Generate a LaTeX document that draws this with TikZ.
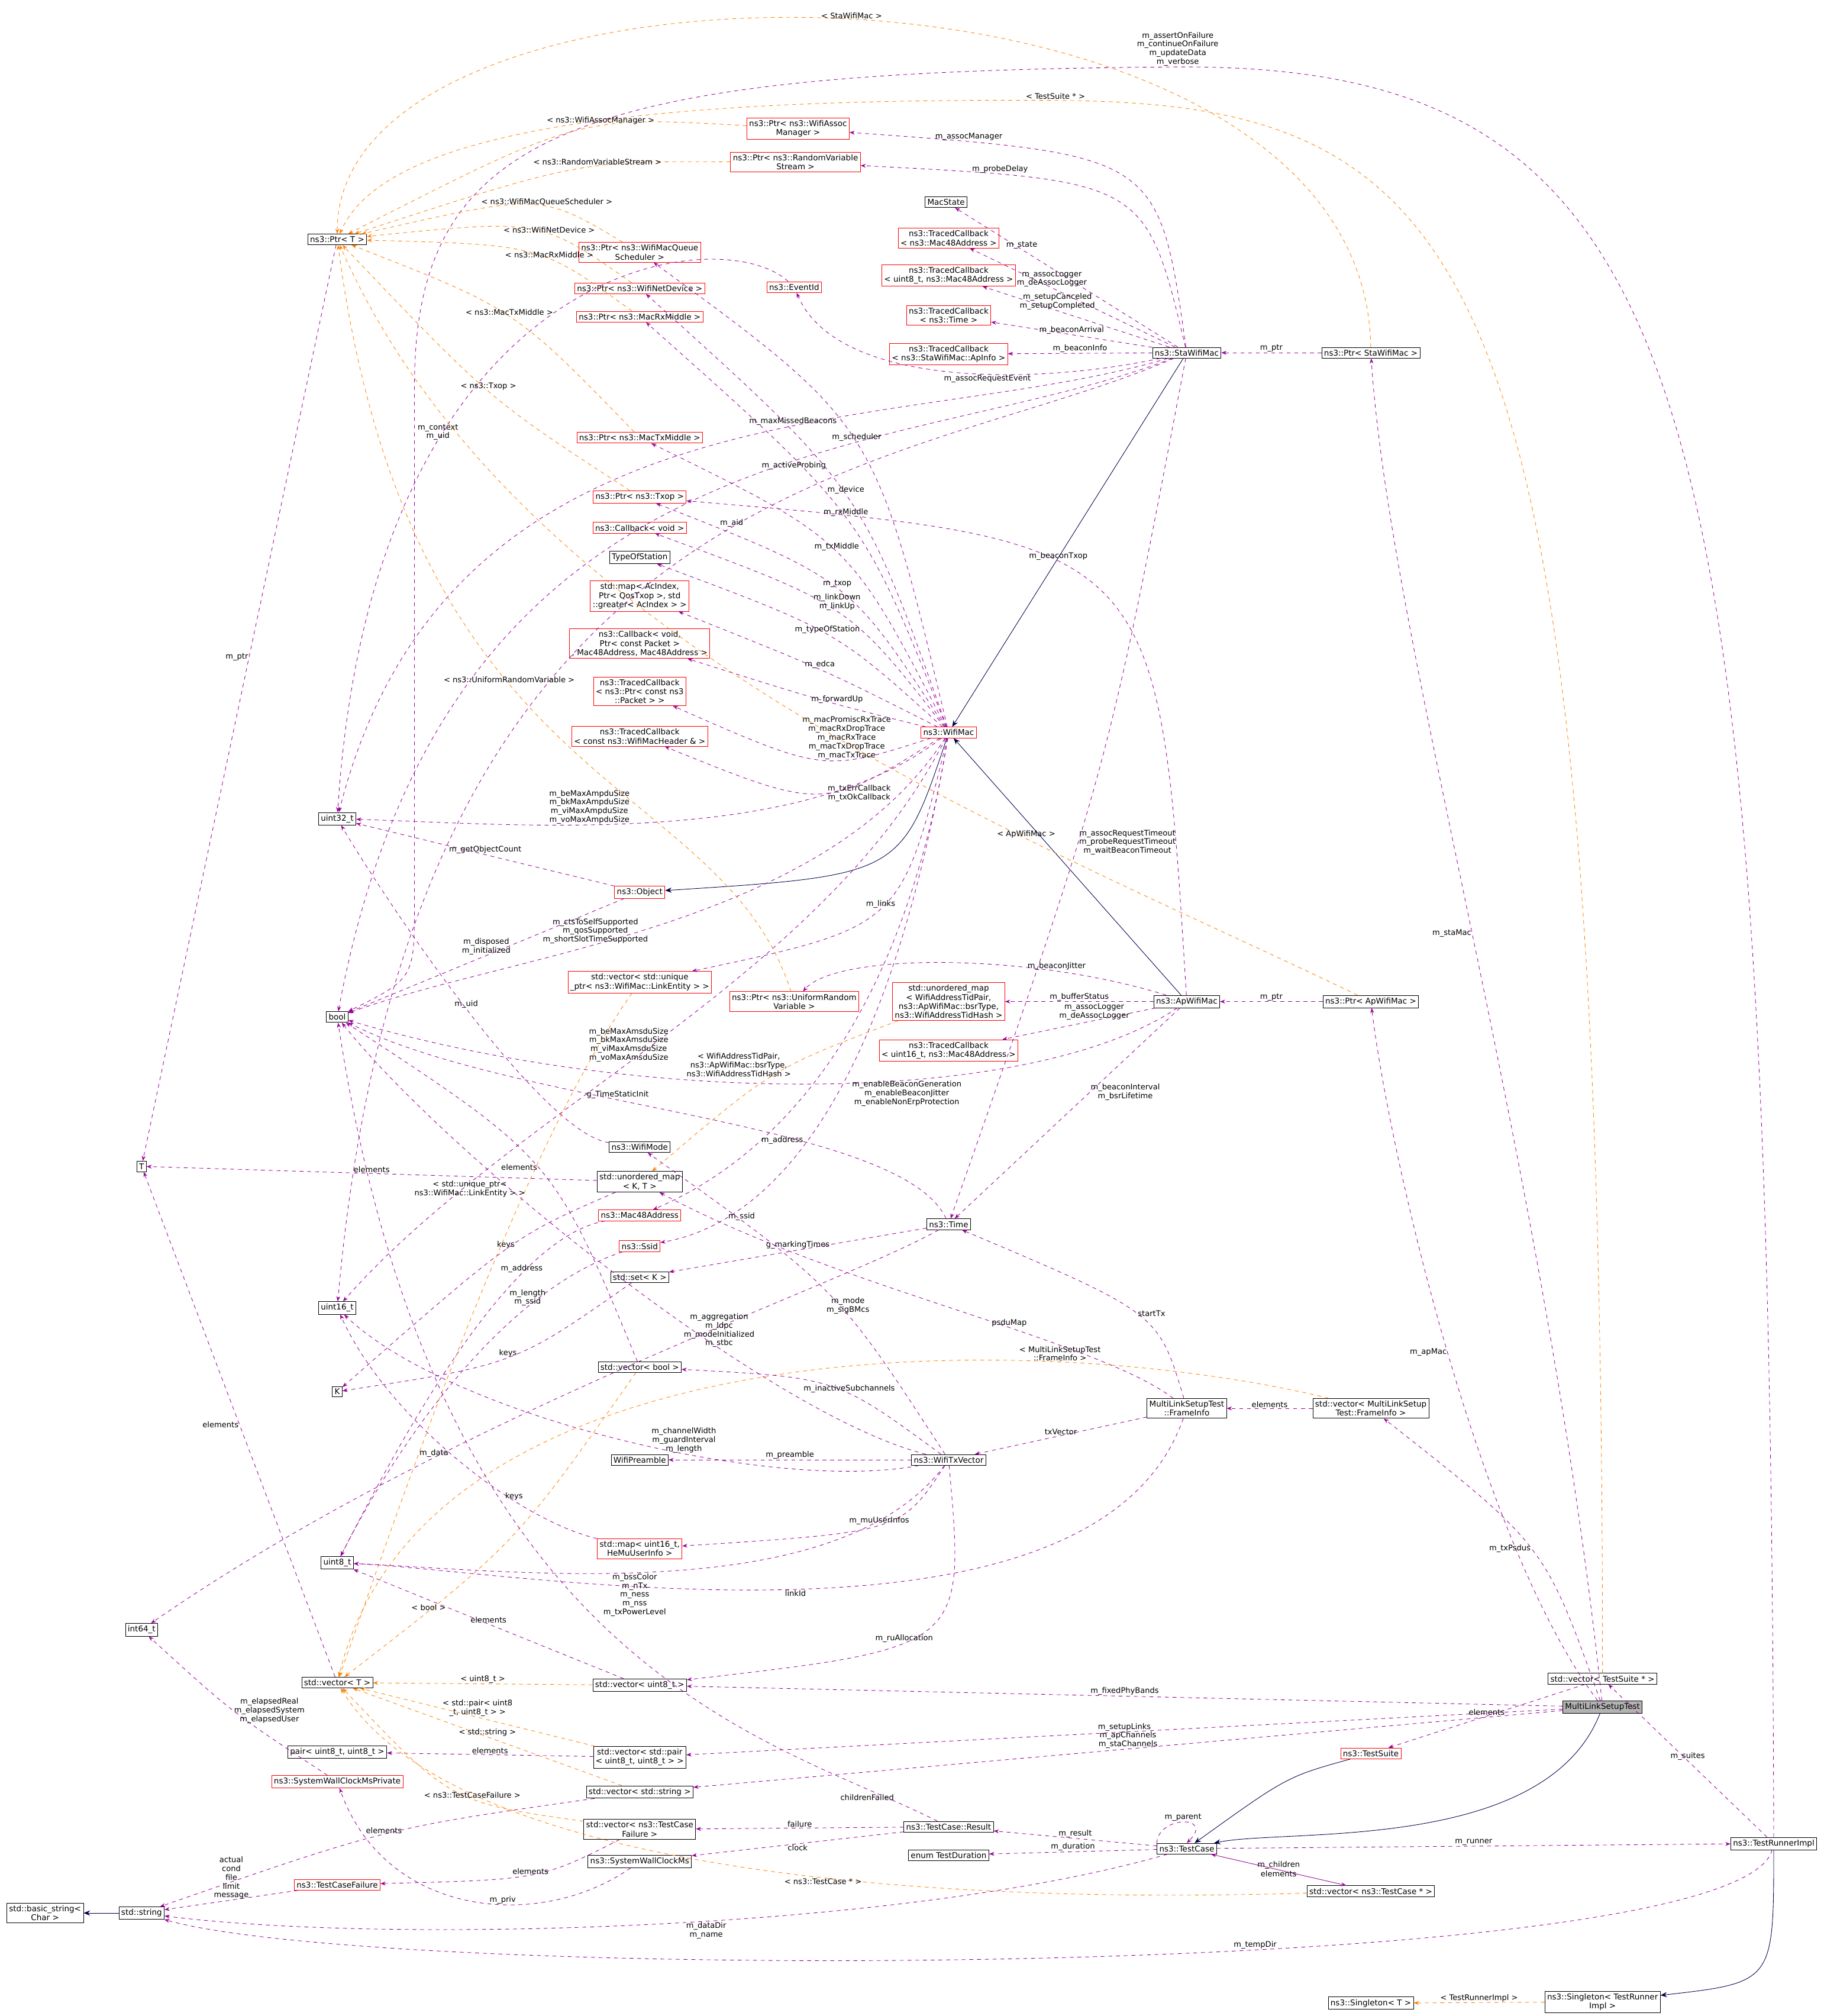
\documentclass[tikz,border=0pt]{standalone}
\usepackage{fontspec}
\setmainfont{DejaVu Sans}
\usetikzlibrary{arrows.meta}
\begin{document}
\begin{tikzpicture}[x=1pt,y=1pt,
 nb/.style={draw=black,fill=white,inner sep=1.8pt,align=center,font=\fontsize{6.2}{7}\selectfont},
 nr/.style={nb,draw=red},
 dep/.style={draw=violet!80!magenta,dashed,-{Stealth[length=4pt,width=3pt]},thin},
 tpl/.style={draw=orange,dashed,-{Stealth[length=4pt,width=3pt]},thin},
 inh/.style={draw=blue!30!black,-{Stealth[length=5pt,width=4pt]},thin},
 lab/.style={font=\fontsize{6}{6.8}\selectfont,align=center,inner sep=0.5pt}]
\useasboundingbox (0,0) rectangle (1417,-1566);
% left column
\node[nb] (ptrT) at (262,-186) {ns3::Ptr< T >};
\node[nb] (u32) at (262,-636) {uint32\_t};
\node[nb] (bool) at (262,-790) {bool};
\node[nb] (T) at (110,-906) {T};
\node[nb] (u16) at (262,-1016) {uint16\_t};
\node[nb] (K) at (262,-1081) {K};
\node[nb] (u8) at (262,-1214) {uint8\_t};
\node[nb] (i64) at (110,-1266) {int64\_t};
\node[nb] (vecT) at (262,-1307) {std::vector< T >};
\node[nb] (pair) at (262,-1361) {pair< uint8\_t, uint8\_t >};
\node[nr] (swcmp) at (262,-1384) {ns3::SystemWallClockMsPrivate};
\node[nr] (tcf) at (262,-1464) {ns3::TestCaseFailure};
\node[nb] (str) at (110,-1486) {std::string};
\node[nb] (bstr) at (35,-1486) {std::basic\_string<\\Char >};
% middle column
\node[nr] (pAssoc) at (620,-100) {ns3::Ptr< ns3::WifiAssoc\\Manager >};
\node[nr] (pRVS) at (618,-126) {ns3::Ptr< ns3::RandomVariable\\Stream >};
\node[nb] (macstate) at (735,-157) {MacState};
\node[nr] (tcMac) at (737,-185) {ns3::TracedCallback\\< ns3::Mac48Address >};
\node[nr] (tcU8) at (737,-214) {ns3::TracedCallback\\< uint8\_t, ns3::Mac48Address >};
\node[nr] (tcTime) at (737,-245) {ns3::TracedCallback\\< ns3::Time >};
\node[nr] (tcAp) at (737,-275) {ns3::TracedCallback\\< ns3::StaWifiMac::ApInfo >};
\node[nr] (evid) at (617,-223) {ns3::EventId};
\node[nr] (pSched) at (497,-196) {ns3::Ptr< ns3::WifiMacQueue\\Scheduler >};
\node[nr] (pDev) at (497,-224) {ns3::Ptr< ns3::WifiNetDevice >};
\node[nr] (pRx) at (497,-246) {ns3::Ptr< ns3::MacRxMiddle >};
\node[nr] (pTxM) at (497,-340) {ns3::Ptr< ns3::MacTxMiddle >};
\node[nr] (pTxop) at (497,-386) {ns3::Ptr< ns3::Txop >};
\node[nr] (cbv) at (497,-410) {ns3::Callback< void >};
\node[nb] (tos) at (497,-433) {TypeOfStation};
\node[nr] (mapAc) at (497,-463) {std::map< AcIndex,\\Ptr< QosTxop >, std\\::greater< AcIndex > >};
\node[nr] (cbFwd) at (497,-500) {ns3::Callback< void,\\Ptr< const Packet >\\, Mac48Address, Mac48Address >};
\node[nr] (tcPkt) at (497,-537) {ns3::TracedCallback\\< ns3::Ptr< const ns3\\::Packet > >};
\node[nr] (tcHdr) at (497,-572) {ns3::TracedCallback\\< const ns3::WifiMacHeader \& >};
\node[nr] (wmac) at (737,-569) {ns3::WifiMac};
\node[nb] (sta) at (922,-274) {ns3::StaWifiMac};
\node[nb] (psta) at (1065,-274) {ns3::Ptr< StaWifiMac >};
\node[nr] (obj) at (497,-693) {ns3::Object};
\node[nr] (vLinks) at (497,-763) {std::vector< std::unique\\\_ptr< ns3::WifiMac::LinkEntity > >};
\node[nr] (pURV) at (617,-778) {ns3::Ptr< ns3::UniformRandom\\Variable >};
\node[nr] (umBsr) at (737,-778) {std::unordered\_map\\< WifiAddressTidPair,\\ ns3::ApWifiMac::bsrType,\\ ns3::WifiAddressTidHash >};
\node[nr] (tcU16) at (737,-816) {ns3::TracedCallback\\< uint16\_t, ns3::Mac48Address >};
\node[nb] (ap) at (922,-778) {ns3::ApWifiMac};
\node[nb] (pap) at (1065,-778) {ns3::Ptr< ApWifiMac >};
\node[nb] (wmode) at (497,-891) {ns3::WifiMode};
\node[nb] (umKT) at (497,-918) {std::unordered\_map\\< K, T >};
\node[nr] (mac48) at (497,-944) {ns3::Mac48Address};
\node[nr] (ssid) at (497,-968) {ns3::Ssid};
\node[nb] (time) at (737,-951) {ns3::Time};
\node[nb] (setK) at (497,-992) {std::set< K >};
\node[nb] (vBool) at (497,-1062) {std::vector< bool >};
\node[nb] (pre) at (497,-1134) {WifiPreamble};
\node[nb] (txv) at (737,-1134) {ns3::WifiTxVector};
\node[nb] (fi) at (922,-1094) {MultiLinkSetupTest\\::FrameInfo};
\node[nb] (vFi) at (1065,-1094) {std::vector< MultiLinkSetup\\Test::FrameInfo >};
\node[nr] (mapHe) at (497,-1203) {std::map< uint16\_t,\\ HeMuUserInfo >};
\node[nb] (vU8) at (497,-1309) {std::vector< uint8\_t >};
\node[nb] (vPair) at (497,-1365) {std::vector< std::pair\\< uint8\_t, uint8\_t > >};
\node[nb] (vStr) at (497,-1392) {std::vector< std::string >};
\node[nb] (vTcf) at (497,-1421) {std::vector< ns3::TestCase\\Failure >};
\node[nb] (swcm) at (497,-1446) {ns3::SystemWallClockMs};
\node[nb] (res) at (737,-1419) {ns3::TestCase::Result};
\node[nb] (dur) at (737,-1441) {enum TestDuration};
\node[nb] (tc) at (922,-1436) {ns3::TestCase};
\node[nb] (vTc) at (1065,-1469) {std::vector< ns3::TestCase * >};
\node[nr] (ts) at (1065,-1362) {ns3::TestSuite};
\node[nb,fill=gray!60] (mlst) at (1245,-1326) {MultiLinkSetupTest};
\node[nb] (vTs) at (1245,-1304) {std::vector< TestSuite * >};
\node[nb] (tri) at (1378,-1432) {ns3::TestRunnerImpl};
\node[nb] (sgTri) at (1245,-1555) {ns3::Singleton< TestRunner\\Impl >};
\node[nb] (sgT) at (1065,-1556) {ns3::Singleton< T >};
% inheritance
\draw[inh] (sta) -- (wmac);
\draw[inh] (ap) -- (wmac);
\draw[inh] (wmac) .. controls (700,-680) .. (obj);
\draw[inh] (mlst) .. controls (1200,-1440) and (1000,-1420) .. (tc);
\draw[inh] (ts) .. controls (1000,-1380) .. (tc);
\draw[inh] (tri) .. controls (1378,-1540) .. (sgTri);
\draw[inh] (str) -- (bstr);
% StaWifiMac
\draw[dep] (sta) .. controls (900,-120) .. node[lab,pos=0.85,above]{m\_assocManager} (pAssoc);
\draw[dep] (sta) .. controls (890,-140) .. node[lab,pos=0.8,above]{m\_probeDelay} (pRVS);
\draw[dep] (sta) -- node[lab,pos=0.7,above]{m\_state} (macstate);
\draw[dep] (sta) -- node[lab,pos=0.6,above]{m\_assocLogger\\m\_deAssocLogger} (tcMac);
\draw[dep] (sta) -- node[lab,pos=0.6,above]{m\_setupCanceled\\m\_setupCompleted} (tcU8);
\draw[dep] (sta) -- node[lab,pos=0.5,above]{m\_beaconArrival} (tcTime);
\draw[dep] (sta) -- node[lab,above]{m\_beaconInfo} (tcAp);
\draw[dep] (sta) .. controls (800,-300) and (650,-300) .. node[lab,pos=0.4,below]{m\_assocRequestEvent} (evid);
\draw[dep] (sta) .. controls (700,-340) and (350,-290) .. node[lab,pos=0.4,above]{m\_maxMissedBeacons} (u32);
\draw[dep] (sta) .. controls (700,-360) and (350,-320) .. node[lab,pos=0.4,below]{m\_activeProbing} (bool);
\draw[dep] (sta) .. controls (700,-370) and (320,-360) .. node[lab,pos=0.45,above]{m\_aid} (u16);
\draw[dep] (sta) .. controls (860,-600) .. node[lab,pos=0.6,right]{m\_assocRequestTimeout\\m\_probeRequestTimeout\\m\_waitBeaconTimeout} (time);
\draw[dep] (psta) -- node[lab,above]{m\_ptr} (sta);
\draw[dep] (mlst) .. controls (1200,-900) and (1080,-500) .. node[lab,pos=0.5,left]{m\_staMac} (psta);
\draw[dep] (mlst) .. controls (1150,-1200) and (1080,-900) .. node[lab,pos=0.5,left]{m\_apMac} (pap);
\draw[dep] (pap) -- node[lab,above]{m\_ptr} (ap);
% ApWifiMac
\draw[dep] (ap) .. controls (900,-420) .. node[lab,pos=0.6,above]{m\_beaconTxop} (pTxop);
\draw[dep] (ap) .. controls (800,-740) and (650,-740) .. node[lab,pos=0.25,above]{m\_beaconJitter} (pURV);
\draw[dep] (ap) -- node[lab,above]{m\_bufferStatus} (umBsr);
\draw[dep] (ap) -- node[lab,pos=0.4,above]{m\_assocLogger\\m\_deAssocLogger} (tcU16);
\draw[dep] (ap) .. controls (800,-860) and (500,-860) .. node[lab,pos=0.4,below]{m\_enableBeaconGeneration\\m\_enableBeaconJitter\\m\_enableNonErpProtection} (bool);
\draw[dep] (ap) -- node[lab,pos=0.4,right]{m\_beaconInterval\\m\_bsrLifetime} (time);
% WifiMac
\draw[dep] (wmac) .. controls (680,-330) .. node[lab,pos=0.5,above]{m\_scheduler} (pSched);
\draw[dep] (wmac) .. controls (670,-380) .. node[lab,pos=0.5,above]{m\_device} (pDev);
\draw[dep] (wmac) .. controls (670,-400) .. node[lab,pos=0.5,above]{m\_rxMiddle} (pRx);
\draw[dep] (wmac) .. controls (660,-420) .. node[lab,pos=0.5,above]{m\_txMiddle} (pTxM);
\draw[dep] (wmac) .. controls (660,-450) .. node[lab,pos=0.5,above]{m\_txop} (pTxop);
\draw[dep] (wmac) .. controls (660,-470) .. node[lab,pos=0.5,above]{m\_linkDown\\m\_linkUp} (cbv);
\draw[dep] (wmac) .. controls (650,-490) .. node[lab,pos=0.5,above]{m\_typeOfStation} (tos);
\draw[dep] (wmac) .. controls (640,-520) .. node[lab,pos=0.5,above]{m\_edca} (mapAc);
\draw[dep] (wmac) .. controls (640,-545) .. node[lab,pos=0.4,above]{m\_forwardUp} (cbFwd);
\draw[dep] (wmac) .. controls (640,-600) .. node[lab,pos=0.35,above]{m\_macPromiscRxTrace\\m\_macRxDropTrace\\m\_macRxTrace\\m\_macTxDropTrace\\m\_macTxTrace} (tcPkt);
\draw[dep] (wmac) .. controls (640,-630) .. node[lab,pos=0.3,below]{m\_txErrCallback\\m\_txOkCallback} (tcHdr);
\draw[dep] (wmac) .. controls (620,-660) and (400,-640) .. node[lab,pos=0.6,above]{m\_beMaxAmpduSize\\m\_bkMaxAmpduSize\\m\_viMaxAmpduSize\\m\_voMaxAmpduSize} (u32);
\draw[dep] (wmac) .. controls (700,-720) .. node[lab,pos=0.5,above]{m\_links} (vLinks);
\draw[dep] (wmac) .. controls (640,-720) and (400,-740) .. node[lab,pos=0.6,above]{m\_ctsToSelfSupported\\m\_qosSupported\\m\_shortSlotTimeSupported} (bool);
\draw[dep] (wmac) .. controls (640,-760) and (400,-860) .. node[lab,pos=0.55,above]{m\_beMaxAmsduSize\\m\_bkMaxAmsduSize\\m\_viMaxAmsduSize\\m\_voMaxAmsduSize} (u16);
\draw[dep] (wmac) .. controls (700,-800) and (600,-900) .. node[lab,pos=0.7,right]{m\_address} (mac48);
\draw[dep] (wmac) .. controls (690,-850) and (600,-950) .. node[lab,pos=0.8,right]{m\_ssid} (ssid);
% Object, EventId, Time, WifiMode
\draw[dep] (obj) -- node[lab,pos=0.5,above]{m\_getObjectCount} (u32);
\draw[dep] (obj) -- node[lab,pos=0.5,above]{m\_disposed\\m\_initialized} (bool);
\draw[dep] (evid) .. controls (560,-170) and (290,-200) .. node[lab,pos=0.7,above]{m\_context\\m\_uid} (u32);
\draw[dep] (time) .. controls (700,-870) and (400,-860) .. node[lab,pos=0.6,above]{g\_TimeStaticInit} (bool);
\draw[dep] (time) -- node[lab,pos=0.5,above]{g\_markingTimes} (setK);
\draw[dep] (time) .. controls (650,-1000) and (350,-1100) .. node[lab,pos=0.7,above]{m\_data} (i64);
\draw[dep] (wmode) .. controls (420,-880) and (300,-700) .. node[lab,pos=0.5,above]{m\_uid} (u32);
\draw[tpl] (pURV) .. controls (560,-600) and (320,-620) .. node[lab,pos=0.6,above]{< ns3::UniformRandomVariable >} (ptrT);
% containers
\draw[dep] (umKT) -- node[lab,pos=0.5,above]{elements} (T);
\draw[dep] (umKT) .. controls (400,-960) .. node[lab,pos=0.5,above]{keys} (K);
\draw[dep] (setK) .. controls (400,-1060) .. node[lab,pos=0.5,above]{keys} (K);
\draw[dep] (vecT) -- node[lab,pos=0.5,left]{elements} (T);
\draw[dep] (vBool) .. controls (430,-900) .. node[lab,pos=0.5,left]{elements} (bool);
\draw[dep] (mac48) .. controls (400,-960) and (320,-1100) .. node[lab,pos=0.3,above]{m\_address} (u8);
\draw[dep] (ssid) .. controls (400,-1000) and (320,-1100) .. node[lab,pos=0.3,above]{m\_length\\m\_ssid} (u8);
\draw[dep] (mapHe) .. controls (400,-1180) and (300,-1100) .. node[lab,pos=0.3,above]{keys} (u16);
\draw[dep] (vU8) -- node[lab,pos=0.5,above]{elements} (u8);
\draw[dep] (vPair) -- node[lab,pos=0.5,above]{elements} (pair);
\draw[dep] (vStr) .. controls (300,-1420) .. node[lab,pos=0.5,above]{elements} (str);
\draw[dep] (vTcf) .. controls (420,-1460) .. node[lab,pos=0.5,above]{elements} (tcf);
\draw[dep] (tcf) -- node[lab,pos=0.5,above]{actual\\cond\\file\\limit\\message} (str);
\draw[dep] (swcm) .. controls (420,-1500) and (300,-1490) .. node[lab,pos=0.4,above]{m\_priv} (swcmp);
\draw[dep] (swcmp) .. controls (180,-1330) .. node[lab,pos=0.5,right]{m\_elapsedReal\\m\_elapsedSystem\\m\_elapsedUser} (i64);
% templates to vector<T>
\draw[tpl] (vLinks) .. controls (400,-900) and (300,-1200) .. node[lab,pos=0.3,left]{< std::unique\_ptr<\\ns3::WifiMac::LinkEntity > >} (vecT);
\draw[tpl] (vBool) .. controls (400,-1200) .. node[lab,pos=0.8,above]{< bool >} (vecT);
\draw[tpl] (vU8) -- node[lab,pos=0.5,above]{< uint8\_t >} (vecT);
\draw[tpl] (vPair) -- node[lab,pos=0.5,above]{< std::pair< uint8\\\_t, uint8\_t > >} (vecT);
\draw[tpl] (vStr) -- node[lab,pos=0.5,above]{< std::string >} (vecT);
\draw[tpl] (vTcf) .. controls (350,-1400) .. node[lab,pos=0.4,above]{< ns3::TestCaseFailure >} (vecT);
\draw[tpl] (vTc) .. controls (700,-1480) and (350,-1450) .. node[lab,pos=0.4,below]{< ns3::TestCase * >} (vecT);
\draw[tpl] (vFi) .. controls (800,-1030) and (330,-1030) .. node[lab,pos=0.25,above]{< MultiLinkSetupTest\\::FrameInfo >} (vecT);
\draw[tpl] (umBsr) .. controls (600,-830) .. node[lab,pos=0.4,left]{< WifiAddressTidPair,\\ns3::ApWifiMac::bsrType,\\ns3::WifiAddressTidHash >} (umKT);
% WifiTxVector
\draw[dep] (txv) .. controls (650,-1000) .. node[lab,pos=0.4,above]{m\_mode\\m\_sigBMcs} (wmode);
\draw[dep] (txv) .. controls (650,-1070) .. node[lab,pos=0.4,above]{m\_inactiveSubchannels} (vBool);
\draw[dep] (txv) .. controls (600,-1100) and (350,-900) .. node[lab,pos=0.35,above]{m\_aggregation\\m\_ldpc\\m\_modeInitialized\\m\_stbc} (bool);
\draw[dep] (txv) -- node[lab,pos=0.5,above]{m\_preamble} (pre);
\draw[dep] (txv) .. controls (600,-1160) and (350,-1100) .. node[lab,pos=0.4,above]{m\_channelWidth\\m\_guardInterval\\m\_length} (u16);
\draw[dep] (txv) .. controls (700,-1190) .. node[lab,pos=0.5,above]{m\_muUserInfos} (mapHe);
\draw[dep] (txv) .. controls (650,-1250) and (400,-1220) .. node[lab,pos=0.55,below]{m\_bssColor\\m\_nTx\\m\_ness\\m\_nss\\m\_txPowerLevel} (u8);
\draw[dep] (txv) .. controls (750,-1280) .. node[lab,pos=0.6,above]{m\_ruAllocation} (vU8);
% FrameInfo
\draw[dep] (fi) .. controls (900,-1020) .. node[lab,pos=0.5,right]{startTx} (time);
\draw[dep] (fi) -- node[lab,pos=0.5,above]{txVector} (txv);
\draw[dep] (fi) .. controls (850,-1040) and (650,-1000) .. node[lab,pos=0.4,above]{psduMap} (umKT);
\draw[dep] (fi) .. controls (850,-1300) and (400,-1220) .. node[lab,pos=0.5,below]{linkId} (u8);
\draw[dep] (vFi) -- node[lab,above]{elements} (fi);
% MultiLinkSetupTest
\draw[dep] (mlst) .. controls (1200,-1200) .. node[lab,pos=0.5,left]{m\_txPsdus} (vFi);
\draw[dep] (mlst) -- node[lab,pos=0.5,above]{m\_fixedPhyBands} (vU8);
\draw[dep] (mlst) -- node[lab,pos=0.5,above]{m\_setupLinks} (vPair);
\draw[dep] (mlst) -- node[lab,pos=0.5,above]{m\_apChannels\\m\_staChannels} (vStr);
\draw[dep] (vTs) -- node[lab,pos=0.5,above]{elements} (ts);
% TestCase
\draw[dep] (tc.north west) .. controls (900,-1410) and (944,-1410) .. node[lab,above]{m\_parent} (tc.north);
\draw[dep] (tc) -- node[lab,pos=0.5,above]{m\_result} (res);
\draw[dep] (tc) -- node[lab,pos=0.5,above]{m\_duration} (dur);
\draw[dep] (tc) -- node[lab,pos=0.5,above]{m\_runner} (tri);
\draw[dep] (tc) -- node[lab,pos=0.5,above]{m\_children} (vTc);
\draw[dep] (vTc) -- node[lab,pos=0.5,below]{elements} (tc);
\draw[dep] (tc) .. controls (700,-1500) and (300,-1510) .. node[lab,pos=0.45,below]{m\_dataDir\\m\_name} (str);
\draw[dep] (res) -- node[lab,pos=0.5,above]{failure} (vTcf);
\draw[dep] (res) -- node[lab,pos=0.5,below]{clock} (swcm);
\draw[dep] (res) .. controls (600,-1350) and (340,-1300) .. node[lab,pos=0.08,above left]{childrenFailed} (bool);
% TestRunnerImpl
\draw[dep] (tri) -- node[lab,pos=0.5,above]{m\_suites} (vTs);
\draw[dep] (tri) .. controls (1350,-1540) and (300,-1540) .. node[lab,pos=0.4,above]{m\_tempDir} (str);
\draw[dep] (tri.north) .. controls (1375,-300) and (1320,-50) .. (915,-52) node[lab,above]{m\_assertOnFailure\\m\_continueOnFailure\\m\_updateData\\m\_verbose} .. controls (450,-55) and (322,-100) .. (322,-300) -- (322,-700) .. controls (322,-760) .. (bool.north east);
\draw[tpl] (sgTri) -- node[lab,above]{< TestRunnerImpl >} (sgT);
% Ptr templates
\draw[tpl] (psta) .. controls (1060,55) and (262,55) .. node[lab,pos=0.5,above]{< StaWifiMac >} (ptrT);
\draw[tpl] (vTs.north) .. controls (1245,-200) and (1150,-80) .. (820,-78) node[lab,above]{< TestSuite * >} .. controls (500,-76) and (300,-100) .. (ptrT);
\draw[tpl] (pap) .. controls (800,-650) and (400,-500) .. node[lab,pos=0.3,above]{< ApWifiMac >} (ptrT);
\draw[tpl] (pAssoc) .. controls (450,-90) .. node[lab,pos=0.4,above]{< ns3::WifiAssocManager >} (ptrT);
\draw[tpl] (pRVS) .. controls (450,-125) .. node[lab,pos=0.4,above]{< ns3::RandomVariableStream >} (ptrT);
\draw[tpl] (pSched) .. controls (420,-150) .. node[lab,pos=0.4,above]{< ns3::WifiMacQueueScheduler >} (ptrT);
\draw[tpl] (pDev) .. controls (420,-170) .. node[lab,pos=0.4,above]{< ns3::WifiNetDevice >} (ptrT);
\draw[tpl] (pRx) .. controls (420,-190) .. node[lab,pos=0.4,above]{< ns3::MacRxMiddle >} (ptrT);
\draw[tpl] (pTxM) .. controls (400,-240) .. node[lab,pos=0.5,above]{< ns3::MacTxMiddle >} (ptrT);
\draw[tpl] (pTxop) .. controls (380,-310) .. node[lab,pos=0.5,above]{< ns3::Txop >} (ptrT);
\draw[dep] (ptrT) -- node[lab,pos=0.45,left]{m\_ptr} (T);
\end{tikzpicture}
\end{document}
